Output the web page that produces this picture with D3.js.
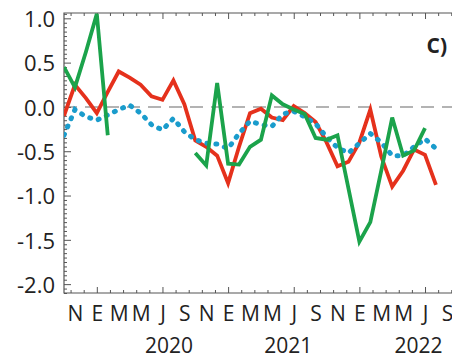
<!DOCTYPE html>
<html>
<head>
<meta charset="utf-8">
<script src="https://cdn.jsdelivr.net/npm/d3@7"></script>
<style>
  body { margin: 0; background: #fff; }
  svg { display: block; }
  text { font-family: "Open Sans", "DejaVu Sans", sans-serif; fill: #222; }
</style>
</head>
<body>
<svg id="chart" width="452" height="360"></svg>
<script>
// Monthly series, October 2019 through August 2022 (index 0 = Oct 2019)
const monthTickLabels = ["N","E","M","M","J","S","N","E","M","M","J","S","N","E","M","M","J","S"];
const yearLabels = ["2020", "2021", "2022"];
const yTickValues = [1.0, 0.5, 0.0, -0.5, -1.0, -1.5, -2.0];

const redSeries = [
  -0.10, 0.25, 0.10, -0.07, 0.17, 0.40, 0.33, 0.25, 0.12, 0.08, 0.30, 0.03,
  -0.38, -0.45, -0.55, -0.86, -0.45, -0.07, -0.02, -0.12, -0.15, 0.01, -0.07, -0.17,
  -0.40, -0.67, -0.62, -0.40, -0.03, -0.56, -0.90, -0.72, -0.48, -0.54, -0.88
];
const greenSeries = [
  0.45, 0.22, 0.62, 1.05, -0.32, null, null, null, null, null, null, null,
  -0.52, -0.66, 0.27, -0.64, -0.65, -0.45, -0.37, 0.13, 0.03, -0.03, -0.08, -0.35,
  -0.37, -0.32, -0.92, -1.52, -1.30, -0.72, -0.12, -0.55, -0.49, -0.24, null
];
const blueSeries = [
  -0.32, -0.03, -0.11, -0.15, -0.09, -0.03, 0.02, -0.07, -0.20, -0.26, -0.13, -0.28,
  -0.37, -0.41, -0.42, -0.47, -0.30, -0.16, -0.20, -0.22, -0.08, -0.05, -0.11, -0.19,
  -0.34, -0.46, -0.52, -0.41, -0.30, -0.40, -0.55, -0.55, -0.45, -0.36, -0.47
];

const svg = d3.select("#chart");
const plotLeft = 64, plotTop = 13, plotBottom = 293;
const monthWidth = 10.94;

const x = d3.scaleLinear().domain([0, 37]).range([plotLeft, plotLeft + 37 * monthWidth]);
const y = d3.scaleLinear().domain([-2.1, 1.06]).range([plotBottom, plotTop]);
const plotRight = x(37);

svg.append("defs").append("clipPath").attr("id", "plot")
  .append("rect").attr("x", plotLeft).attr("y", plotTop - 2)
  .attr("width", plotRight - plotLeft).attr("height", plotBottom - plotTop + 2);

// zero reference line
svg.append("line")
  .attr("x1", plotLeft).attr("x2", plotRight)
  .attr("y1", y(0)).attr("y2", y(0))
  .attr("stroke", "#9a9a9a").attr("stroke-width", 1.5)
  .attr("stroke-dasharray", "13 8");

// frame
const axisColor = "#555";
svg.append("path")
  .attr("d", `M${plotRight},${plotTop}H${plotLeft}V${plotBottom}H${plotRight}`)
  .attr("fill", "none").attr("stroke", axisColor).attr("stroke-width", 1.2);

// x ticks: majors at January and July, four minors between
const majorX = d3.range(3, 37, 6);
const minorX = d3.range(0.6, 37, 1.2).filter(v => !majorX.some(m => Math.abs(m - v) < 0.01));

function styleAxis(g) {
  g.select(".domain").remove();
  g.selectAll(".tick line").attr("stroke", axisColor).attr("stroke-width", 1);
}

[[plotBottom, d3.axisBottom], [plotTop, d3.axisTop]].forEach(([pos, axisFn]) => {
  svg.append("g").attr("transform", `translate(0,${pos})`)
    .call(axisFn(x).tickValues(majorX).tickSizeInner(-6).tickSizeOuter(0).tickFormat(""))
    .call(styleAxis);
  svg.append("g").attr("transform", `translate(0,${pos})`)
    .call(axisFn(x).tickValues(minorX).tickSizeInner(-3).tickSizeOuter(0).tickFormat(""))
    .call(styleAxis);
});

// y ticks
const minorY = d3.range(-2.1, 1.06, 0.05).map(v => +v.toFixed(2))
  .filter(v => !yTickValues.some(t => Math.abs(t - v) < 0.001));
svg.append("g").attr("transform", `translate(${plotLeft},0)`)
  .call(d3.axisLeft(y).tickValues(minorY).tickSizeInner(-3).tickSizeOuter(0).tickFormat(""))
  .call(styleAxis);
svg.append("g").attr("transform", `translate(${plotLeft},0)`)
  .call(d3.axisLeft(y).tickValues(yTickValues).tickSizeInner(-7).tickSizeOuter(0)
    .tickPadding(9).tickFormat(d => d3.format(".1f")(d).replace("−", "-")))
  .call(styleAxis)
  .call(g => g.selectAll("text")
    .style("font-size", "22px").attr("fill", "#222").attr("dy", "0.38em"));

// month letters every two months from November 2019
const monthPositions = monthTickLabels.map((_, k) => 1 + 2 * k);
svg.append("g").attr("transform", `translate(0,${plotBottom})`)
  .call(d3.axisBottom(x).tickValues(monthPositions).tickSize(0).tickPadding(13)
    .tickFormat((d, k) => monthTickLabels[k]))
  .call(g => g.select(".domain").remove())
  .call(g => g.selectAll("text").style("font-size", "21px").attr("fill", "#222")
    .attr("dy", "0.71em"));

// year labels under each year's run of months
const yearCentres = [9.6, 20.5, 32.4];
svg.append("g").selectAll("text").data(yearLabels).join("text")
  .attr("x", (d, k) => x(yearCentres[k]))
  .attr("y", 353)
  .attr("text-anchor", "middle")
  .style("font-size", "21px")
  .text(d => d);

// series lines
const line = d3.line()
  .defined(d => d != null)
  .x((d, i) => x(i))
  .y(d => y(d));

const plot = svg.append("g").attr("clip-path", "url(#plot)");
plot.append("path").datum(redSeries)
  .attr("d", line).attr("fill", "none")
  .attr("stroke", "#e5311c").attr("stroke-width", 3.8)
  .attr("stroke-linejoin", "miter");
plot.append("path").datum(blueSeries)
  .attr("d", line).attr("fill", "none")
  .attr("stroke", "#1a9ccc").attr("stroke-width", 5)
  .attr("stroke-linecap", "round").attr("stroke-dasharray", "1 8");
plot.append("path").datum(greenSeries)
  .attr("d", line).attr("fill", "none")
  .attr("stroke", "#1ba34b").attr("stroke-width", 3.8)
  .attr("stroke-linejoin", "miter");

// panel letter
svg.append("text")
  .attr("x", 447).attr("y", 53)
  .attr("text-anchor", "end")
  .style("font-size", "21px").style("font-weight", "bold")
  .text("C)");
</script>
</body>
</html>
